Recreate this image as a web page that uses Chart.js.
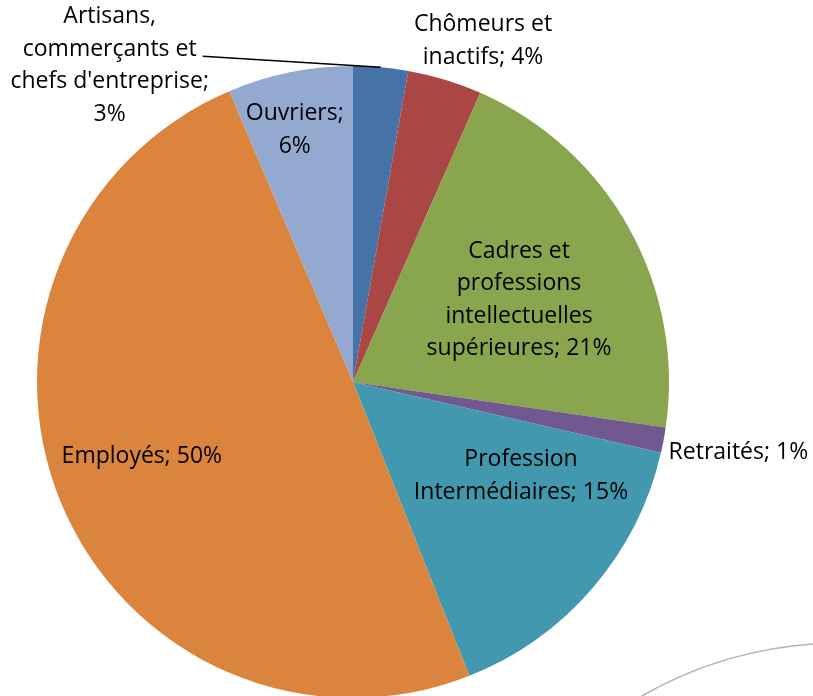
<!DOCTYPE html>
<html>
<head>
<meta charset="utf-8">
<script src="https://cdn.jsdelivr.net/npm/chart.js@4"></script>
<style>
  html, body { margin: 0; padding: 0; background: #fff; overflow: hidden; }
  #wrap { width: 813px; height: 696px; overflow: hidden; }
</style>
</head>
<body>
<div id="wrap"><canvas id="pieChart" width="813" height="700"></canvas></div>
<script>
// categories, clockwise from 12 o'clock
var categories = [
    "Artisans, commerçants et chefs d'entreprise",
    'Chômeurs et inactifs',
    'Cadres et professions intellectuelles supérieures',
    'Retraités',
    'Profession Intermédiaires',
    'Employés',
    'Ouvriers'
];
var values = [2.8, 3.8, 20.7, 1.3, 15.4, 49.6, 6.4];
var colors = ['#4572A7', '#AA4643', '#89A54E', '#71588F', '#4198AF', '#DB843D', '#93A9CF'];

// how each data label wraps, {p} is the percentage
var labelLines = [
    ['Artisans,', 'commerçants et', "chefs d'entreprise;", '{p}'],
    ['Chômeurs et', 'inactifs; {p}'],
    ['Cadres et', 'professions', 'intellectuelles', 'supérieures; {p}'],
    ['Retraités; {p}'],
    ['Profession', 'Intermédiaires; {p}'],
    ['Employés; {p}'],
    ['Ouvriers;', '{p}']
];
// label placement: radius factor and angle shift (deg) from the slice middle
var labelRadius = [1.263, 1.155, 0.586, 1.24, 0.609, 0.708, 0.818];
var labelShift = [-42.6, 3.95, 2.7, -0.2, -11.5, 3.0, -1.5];
var leaderLine = [true, false, false, false, false, false, false];

var FONT = '23px "Open Sans", "Liberation Sans", sans-serif';
var LINE_H = 32.5;

var pieLabels = {
    id: 'pieLabels',
    afterDatasetsDraw: function(chart) {
        var ctx = chart.ctx;
        var meta = chart.getDatasetMeta(0);
        var data = chart.data.datasets[0].data;
        var total = data.reduce(function(a, b) { return a + b; }, 0);
        ctx.save();
        ctx.font = FONT;
        ctx.fillStyle = '#000';
        ctx.textAlign = 'center';
        ctx.textBaseline = 'middle';
        meta.data.forEach(function(arc, i) {
            var p = arc.getProps(['x', 'y', 'startAngle', 'endAngle', 'outerRadius'], true);
            var mid = (p.startAngle + p.endAngle) / 2;
            var a = mid + labelShift[i] * Math.PI / 180;
            var r = p.outerRadius * labelRadius[i];
            var cx = p.x + Math.cos(a) * r;
            var cy = p.y + Math.sin(a) * r;
            var pct = Math.round(data[i] / total * 100) + '%';
            var lines = labelLines[i].map(function(s) { return s.replace('{p}', pct); });
            var top = cy - (lines.length - 1) * LINE_H / 2;
            lines.forEach(function(s, k) {
                ctx.fillText(s, cx, top + k * LINE_H);
            });
            if (leaderLine[i]) {
                var w = ctx.measureText(lines[1]).width;
                var lx = cx + w / 2 + 6;
                var ly = top + LINE_H + 7;
                var ex = p.x + Math.cos(mid) * p.outerRadius;
                var ey = p.y + Math.sin(mid) * p.outerRadius;
                ctx.strokeStyle = '#000';
                ctx.lineWidth = 1.5;
                ctx.beginPath();
                ctx.moveTo(lx, ly);
                ctx.lineTo(ex, ey);
                ctx.stroke();
            }
        });
        ctx.restore();
    }
};

// faint arc left over in the bottom right corner of the original image
var cornerArc = {
    id: 'cornerArc',
    beforeDraw: function(chart) {
        var ctx = chart.ctx;
        ctx.save();
        ctx.strokeStyle = '#b4b4b4';
        ctx.lineWidth = 1.5;
        ctx.beginPath();
        ctx.arc(840, 1040, 397, -122 * Math.PI / 180, -90 * Math.PI / 180);
        ctx.stroke();
        ctx.restore();
    }
};

var pieChart = new Chart(document.getElementById('pieChart'), {
    type: 'pie',
    data: {
        labels: categories,
        datasets: [{
            data: values,
            backgroundColor: colors,
            borderWidth: 0
        }]
    },
    options: {
        responsive: false,
        animation: false,
        devicePixelRatio: 1,
        layout: { padding: { left: 37, right: 144, top: 66, bottom: 2 } },
        plugins: {
            legend: { display: false },
            tooltip: { enabled: false }
        }
    },
    plugins: [cornerArc, pieLabels]
});
</script>
</body>
</html>
